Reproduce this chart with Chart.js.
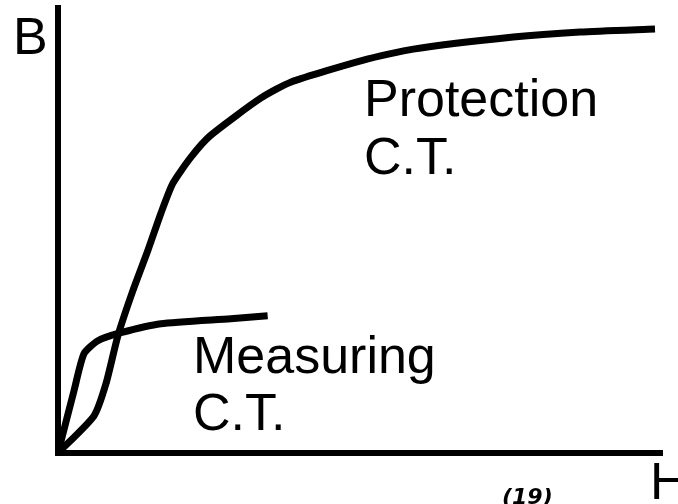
<!DOCTYPE html>
<html>
<head>
<meta charset="utf-8">
<script src="https://cdn.jsdelivr.net/npm/chart.js@4.4.0/dist/chart.umd.min.js"></script>
<style>
  body { margin: 0; background: #fff; }
  canvas { display: block; }
</style>
</head>
<body>
<canvas id="myChart" width="678" height="504"></canvas>
<script>
// magnetising field H and flux density B (arbitrary units)
const protH = [0, 36, 48, 60, 75, 90, 103, 115, 133, 153, 203, 233, 306, 356, 456, 523, 598];
const protB = [0, 37, 69, 117, 162, 202, 239, 269, 295, 317, 354, 370, 392, 403, 415, 420, 423];
const measH = [0, 16, 26, 40, 63, 103, 173, 210];
const measB = [0, 62, 99, 112, 120, 129, 134, 137];

const toPoints = (xs, ys) => xs.map((x, i) => ({ x: x, y: ys[i] }));

const labelFont = '52px "Liberation Sans", Arial, sans-serif';

// text labels on the drawing
const textPlugin = {
    id: 'texts',
    afterDraw(chart) {
        const c = chart.ctx;
        c.save();
        c.fillStyle = '#000';
        c.textBaseline = 'alphabetic';
        c.font = labelFont;
        c.fillText('B', 13, 54);
        c.fillText('H', 650, 499);
        c.fillText('Protection', 364, 116);
        c.fillText('C.T.', 364, 174);
        c.fillText('Measuring', 193, 373);
        c.fillText('C.T.', 193, 430);
        c.font = 'italic bold 22px "DejaVu Sans", sans-serif';
        c.fillText('(19)', 502, 504);
        c.restore();
    }
};

const ctx = document.getElementById('myChart').getContext('2d');
const myChart = new Chart(ctx, {
    type: 'scatter',
    data: {
        datasets: [{
            label: 'Protection C.T.',
            data: toPoints(protH, protB),
            showLine: true,
            borderColor: '#000',
            borderWidth: 7,
            pointRadius: 0,
            tension: 0.2,
            borderJoinStyle: 'round'
        }, {
            label: 'Measuring C.T.',
            data: toPoints(measH, measB),
            showLine: true,
            borderColor: '#000',
            borderWidth: 7,
            pointRadius: 0,
            tension: 0.2,
            borderJoinStyle: 'round'
        }]
    },
    options: {
        responsive: false,
        animation: false,
        layout: { padding: { left: 50, right: 16, top: 8, bottom: 43 } },
        plugins: {
            legend: { display: false },
            tooltip: { enabled: false }
        },
        scales: {
            x: {
                min: 0,
                max: 605,
                grid: { display: false },
                ticks: { display: false },
                border: { display: true, color: '#000', width: 6 }
            },
            y: {
                min: 0,
                max: 444,
                grid: { display: false },
                ticks: { display: false },
                border: { display: true, color: '#000', width: 6 }
            }
        }
    },
    plugins: [textPlugin]
});
</script>
</body>
</html>
